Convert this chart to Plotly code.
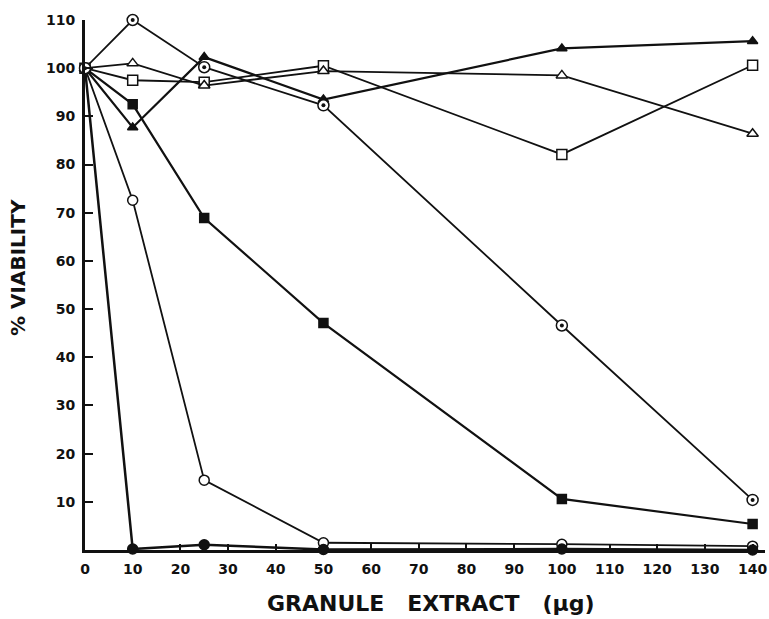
import plotly.graph_objects as go

# ---- data ----
dose = [0, 10, 25, 50, 100, 140]

circle_dot_vals   = [100, 110.0, 100.2, 92.3, 46.6, 10.4]
filled_tri_vals   = [100, 87.7, 102.3, 93.5, 104.1, 105.6]
open_tri_vals     = [100, 101.0, 96.4, 99.4, 98.5, 86.4]
open_sq_vals      = [100, 97.5, 97.1, 100.5, 82.1, 100.6]
filled_sq_vals    = [100, 92.5, 68.9, 47.1, 10.6, 5.4]
open_circle_vals  = [100, 72.6, 14.5, 1.5, 1.2, 0.8]
filled_circle_vals = [100, 0.2, 1.1, 0.1, 0.2, 0.0]

x_ticks = list(range(0, 141, 10))
y_ticks = list(range(10, 111, 10))

FONT = "DejaVu Sans"
BLACK = "#111111"

fig = go.Figure()

def add(vals, symbol, fill, size, width):
    fig.add_trace(go.Scatter(
        x=dose, y=vals, mode="lines+markers",
        line=dict(color=BLACK, width=width),
        marker=dict(symbol=symbol, size=size, color=fill,
                    line=dict(color=BLACK, width=1.5)),
        cliponaxis=False, showlegend=False))

add(open_circle_vals, "circle", "white", 10, 1.8)
add(filled_circle_vals, "circle", BLACK, 10, 2.5)
add(filled_sq_vals, "square", BLACK, 9, 2.2)
add(open_sq_vals, "square", "white", 10, 1.8)
add(open_tri_vals, "triangle-up", "white", 10, 1.8)
add(filled_tri_vals, "triangle-up", BLACK, 9, 2.2)
add(circle_dot_vals, "circle", "white", 11, 1.8)
# centre dots of the circle-dot series
fig.add_trace(go.Scatter(
    x=dose, y=circle_dot_vals, mode="markers",
    marker=dict(symbol="circle", size=4, color=BLACK),
    cliponaxis=False, showlegend=False))

fig.update_layout(
    width=769, height=619,
    margin=dict(l=85, r=4, t=20, b=69),
    paper_bgcolor="white", plot_bgcolor="white",
    font=dict(family=FONT, color=BLACK),
    xaxis=dict(range=[0, 142.6], tickvals=x_ticks, ticktext=[str(v) for v in x_ticks],
               showgrid=False, zeroline=False, showline=True, linecolor=BLACK, linewidth=3,
               ticks="inside", ticklen=6, tickwidth=1.5, tickcolor=BLACK,
               tickfont=dict(family=FONT, size=14, color=BLACK, weight="bold"),
               ticklabelstandoff=4, ticklabeloverflow="allow", automargin=False),
    yaxis=dict(range=[0, 110], tickvals=y_ticks, ticktext=[str(v) for v in y_ticks],
               showgrid=False, zeroline=False, showline=True, linecolor=BLACK, linewidth=3,
               ticks="inside", ticklen=8, tickwidth=2, tickcolor=BLACK,
               tickfont=dict(family=FONT, size=14, color=BLACK, weight="bold"),
               ticklabelstandoff=4, automargin=False),
    annotations=[
        dict(text="GRANULE   EXTRACT   (μg)", xref="paper", yref="paper",
             x=(430 - 85) / 680, y=(550 - 603) / 530, xanchor="center", yanchor="middle",
             showarrow=False, font=dict(family=FONT, size=22, color=BLACK, weight="bold")),
        dict(text="% VIABILITY", xref="paper", yref="paper",
             x=(18 - 85) / 680, y=(550 - 268) / 530, xanchor="center", yanchor="middle",
             textangle=-90, showarrow=False,
             font=dict(family=FONT, size=20, color=BLACK, weight="bold")),
    ],
)

fig.write_html("out.html")
